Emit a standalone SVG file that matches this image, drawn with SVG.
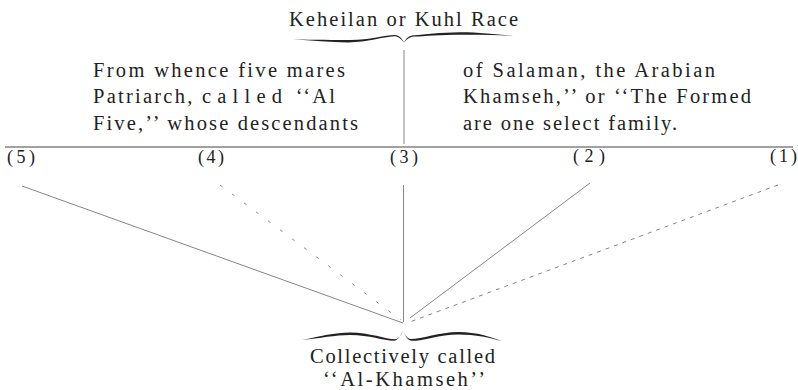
<svg xmlns="http://www.w3.org/2000/svg" width="798" height="390" viewBox="0 0 798 390">
<style>
text{font-family:"Liberation Serif","Times New Roman",serif;fill:#222;}
.t{font-size:20.5px;}
.l{font-size:18px;}
.brace{fill:#222;}
.c{stroke:#777;stroke-width:0.9;fill:none;}
</style>
<rect width="798" height="390" fill="#fff"/>
<g id="top-node">
<text class="t" x="289" y="26" textLength="229">Keheilan or Kuhl Race</text>
<path class="brace" d="M293,39.3 C315,40 335,40 350,40 C370,39.8 385,35.2 395,35 C399,35.2 402,38.5 404,42.5 C401,38.8 398,36.2 394,36.3 C383,36.8 368,42.3 348,42.4 C330,42.3 312,40.8 293,39.3 Z"/>
<path class="brace" d="M404,42.5 C406,38.5 409,35.6 414,35.3 C425,34.5 440,32.3 460,32.2 C480,32.3 498,34.3 513,36 C498,35 482,34.6 462,34.7 C440,34.9 425,36 414,36.6 C410,37 407,39 404,42.5 Z"/>
</g>
<g id="left-text">
<text class="t" x="93" y="77" textLength="252">From whence five mares</text>
<text class="t" x="93" y="103" textLength="242">Patriarch, <tspan letter-spacing="4">called</tspan> ‘‘Al</text>
<text class="t" x="93" y="130" textLength="265">Five,’’ whose descendants</text>
</g>
<g id="right-text">
<text class="t" x="463" y="77" textLength="252">of Salaman, the Arabian</text>
<text class="t" x="463" y="103" textLength="288">Khamseh,’’ or ‘‘The Formed</text>
<text class="t" x="463" y="130" textLength="214">are one select family.</text>
</g>
<g id="n5"><text class="l" x="7" y="163" textLength="28">(5)</text></g>
<g id="n4"><text class="l" x="198" y="163" textLength="26">(4)</text></g>
<g id="n3"><text class="l" x="390" y="163" textLength="28">(3)</text></g>
<g id="n2"><text class="l" x="573" y="162" textLength="32">(2)</text></g>
<g id="n1"><text class="l" x="770" y="162" textLength="27">(1)</text></g>
<g id="connectors">
<line class="c" x1="404" y1="50" x2="404" y2="144" stroke="#888"/>
<line x1="5" y1="147" x2="793" y2="147" stroke="#444" stroke-width="1.2"/>
<line class="c" x1="22" y1="186" x2="403" y2="323"/>
<line class="c" x1="220" y1="185" x2="401" y2="320" stroke-dasharray="3 12" stroke="#999"/>
<line class="c" x1="403.5" y1="185" x2="403.5" y2="322" stroke="#999"/>
<line class="c" x1="590" y1="183" x2="410" y2="318" stroke="#555" stroke-width="1"/>
<line class="c" x1="778" y1="185" x2="407" y2="323" stroke-dasharray="4 5" stroke="#999"/>
</g>
<g id="bottom-node">
<path class="brace" d="M302,340 C320,336 335,332.5 350,332.4 C370,332.5 385,339 395,339.2 C399,338.8 401,335 403,331 C400,336 398,340.5 394,340.7 C383,340.6 370,334.9 350,334.9 C335,335 320,338 302,340 Z"/>
<path class="brace" d="M403,331 C405,335 407,338.6 411,339.1 C421,339 440,332 458,331.9 C478,332 490,337 502,341 C490,337.8 476,334.4 458,334.4 C440,334.5 423,340.8 412,340.8 C408,340.6 405,336 403,331 Z"/>
<text class="t" x="310" y="363" textLength="185">Collectively called</text>
<text class="t" x="323" y="386" textLength="162">‘‘Al-Khamseh’’</text>
</g>
</svg>
